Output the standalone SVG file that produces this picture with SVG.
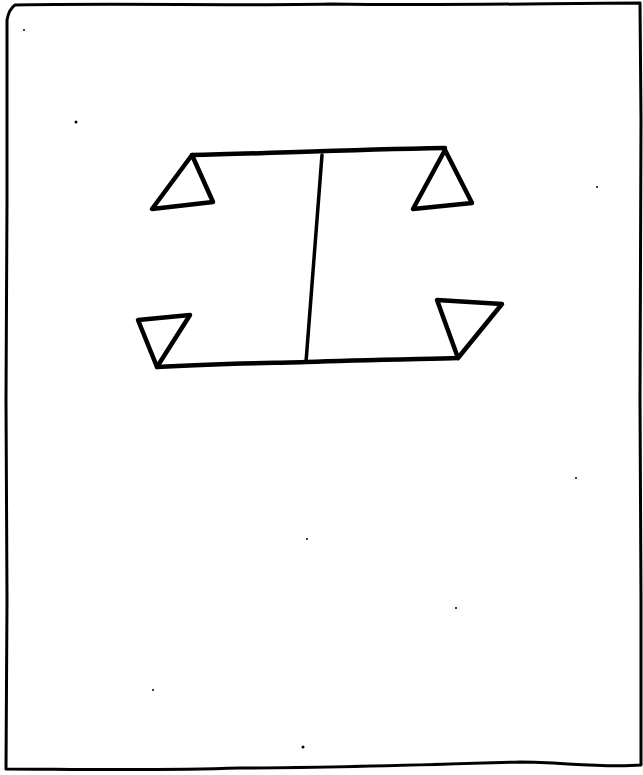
<svg xmlns="http://www.w3.org/2000/svg" width="643" height="775" viewBox="0 0 643 775">
<style>
.ink{fill:none;stroke:#000;stroke-width:4.5;stroke-linejoin:round;stroke-linecap:round}
.frame{fill:none;stroke:#000;stroke-width:3;stroke-linejoin:round;stroke-linecap:round}
.speck{fill:#000}
</style>
<rect width="643" height="775" fill="#fff"/>
<g id="frame">
<path class="frame" d="M15,5 C120,3 240,6 330,4 C450,6 560,3 640,3 L641,120 L640,400 L641,600 L641,765 C600,768 560,762 520,762 C420,765 330,768 240,768 C150,771 60,769 6,769 L7,600 L6,400 L7,200 L7,20 Q9,9 15,5 Z"/>
</g>
<g id="structure">
<path class="ink" d="M192,155 C260,154 330,150 445,148"/>
<path class="ink" d="M322,155 L306,362" style="stroke-width:3.5"/>
<path class="ink" d="M157,367 C220,363 280,363 306,362 C360,360 420,359 458,358"/>
</g>
<g id="triangle-top-left"><path class="ink" d="M192,155 L152,209 L213,202 Z"/></g>
<g id="triangle-top-right"><path class="ink" d="M445,150 L413,209 L472,203 Z"/></g>
<g id="triangle-bottom-left"><path class="ink" d="M138,320 L190,315 L157,367 Z"/></g>
<g id="triangle-bottom-right"><path class="ink" d="M437,300 L502,304 L458,358 Z"/></g>
<g id="specks">
<circle class="speck" cx="76" cy="122" r="1.5"/>
<circle class="speck" cx="597" cy="187" r="1"/>
<circle class="speck" cx="576" cy="478" r="1"/>
<circle class="speck" cx="307" cy="539" r="1"/>
<circle class="speck" cx="456" cy="608" r="1"/>
<circle class="speck" cx="153" cy="690" r="1"/>
<circle class="speck" cx="303" cy="747" r="1.5"/>
<circle class="speck" cx="24" cy="30" r="1"/>
</g>
</svg>
